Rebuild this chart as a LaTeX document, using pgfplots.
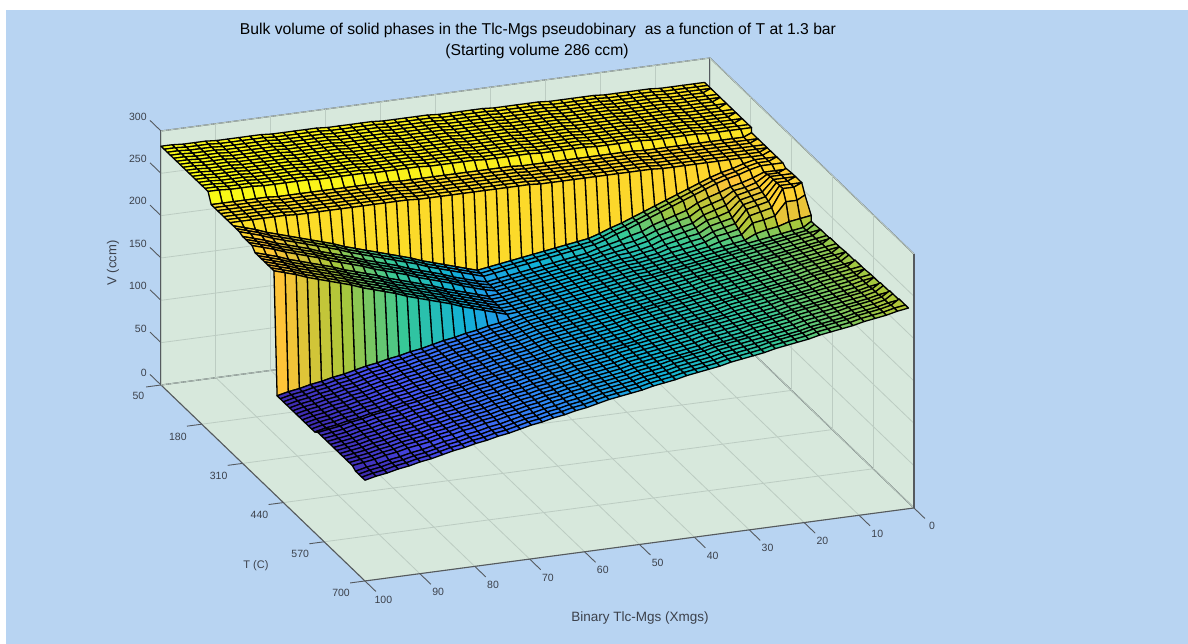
\documentclass[border=0pt]{standalone}
\usepackage{fontspec}
\setmainfont{Liberation Sans}
\usepackage{pgfplots}
\pgfplotsset{compat=1.18}
\definecolor{bgblue}{RGB}{184,212,242}
\definecolor{wall}{RGB}{215,232,220}
\definecolor{gridc}{RGB}{188,204,194}
\definecolor{axc}{RGB}{85,90,95}
\definecolor{txt}{RGB}{60,65,75}
\pgfplotsset{
  box3d/.style={
    x={(-5.49pt,-0.73pt)}, y={(0.3138pt,-0.3015pt)}, z={(0pt,0.8467pt)},
    xmin=0, xmax=100, ymin=50, ymax=700, zmin=0, zmax=300,
    at={(710pt,332pt)}, anchor=origin, clip=false,
  },
}
\begin{document}
\begin{tikzpicture}[x=1pt,y=1pt]
\path[use as bounding box] (0,0) rectangle (1188,644);
\fill[white] (0,0) rectangle (1188,644);
\fill[bgblue] (6,0) rectangle (1188,634);
% walls first, the real axis goes on top of them
\begin{axis}[box3d, hide axis]
\fill[wall] (axis cs:100,50,0) -- (axis cs:100,50,300) -- (axis cs:0,50,300) -- (axis cs:0,700,300) -- (axis cs:0,700,0) -- (axis cs:100,700,0) -- cycle;
\end{axis}
\begin{axis}[box3d,
  xtick={0,10,...,100}, ytick={50,180,310,440,570,700}, ztick={0,50,...,300},
  grid=major, major grid style={gridc, line width=0.8pt},
  axis line style={axc, line width=1.1pt},
  tick style={draw=none}, major tick length=15pt, tick align=outside,
  tick label style={font=\fontsize{10.5}{12}\selectfont, text=txt},
  xticklabel style={xshift=4pt},
  /pgf/number format/assume math mode=true,
  colormap={parula}{rgb=(.2422,.1504,.6603) rgb=(.2810,.3228,.9579) rgb=(.1786,.5289,.9682) rgb=(.0689,.6948,.8394) rgb=(.2161,.7843,.5923) rgb=(.6720,.7793,.2227) rgb=(.9970,.7659,.2199) rgb=(.9769,.9839,.0805)},
  point meta min=119, point meta max=282,
]
% V, one line per T (50 to 700 by 10), X from 1 to 100 along each line
\addplot3[surf, shader=flat corner, draw=black, line width=1.3pt, line join=round, z buffer=none,
  mesh/rows=66, mesh/cols=50, point meta=z]
table[row sep=\\, header=false, x expr={1+99/49*mod(\coordindex,50)}, y expr={50+10*floor(\coordindex/50)}, z index=0]{
272\\272\\272\\272\\272\\273\\273\\273\\273\\273\\274\\274\\274\\274\\274\\275\\275\\275\\275\\275\\276\\276\\276\\276\\276\\277\\277\\277\\277\\277\\278\\278\\278\\278\\278\\279\\279\\279\\279\\279\\280\\280\\280\\280\\280\\281\\281\\281\\282\\282\\
272\\272\\272\\272\\272\\273\\273\\273\\273\\273\\274\\274\\274\\274\\274\\275\\275\\275\\275\\275\\276\\276\\276\\276\\276\\277\\277\\277\\277\\277\\278\\278\\278\\278\\278\\279\\279\\279\\279\\279\\280\\280\\280\\280\\280\\281\\281\\281\\282\\282\\
272\\272\\272\\272\\272\\273\\273\\273\\273\\273\\274\\274\\274\\274\\274\\275\\275\\275\\275\\275\\276\\276\\276\\276\\276\\277\\277\\277\\277\\277\\278\\278\\278\\278\\278\\279\\279\\279\\279\\279\\280\\280\\280\\280\\280\\281\\281\\281\\282\\282\\
272\\272\\272\\272\\272\\273\\273\\273\\273\\273\\274\\274\\274\\274\\274\\275\\275\\275\\275\\275\\276\\276\\276\\276\\276\\277\\277\\277\\277\\277\\278\\278\\278\\278\\278\\279\\279\\279\\279\\279\\280\\280\\280\\280\\280\\281\\281\\281\\282\\282\\
272\\272\\272\\272\\272\\273\\273\\273\\273\\273\\274\\274\\274\\274\\274\\275\\275\\275\\275\\275\\276\\276\\276\\276\\276\\277\\277\\277\\277\\277\\278\\278\\278\\278\\278\\279\\279\\279\\279\\279\\280\\280\\280\\280\\280\\281\\281\\281\\282\\282\\
272\\272\\272\\272\\272\\273\\273\\273\\273\\273\\274\\274\\274\\274\\274\\275\\275\\275\\275\\275\\276\\276\\276\\276\\276\\277\\277\\277\\277\\277\\278\\278\\278\\278\\278\\279\\279\\279\\279\\279\\280\\280\\280\\280\\280\\281\\281\\281\\282\\282\\
272\\272\\272\\272\\272\\273\\273\\273\\273\\273\\274\\274\\274\\274\\274\\275\\275\\275\\275\\275\\276\\276\\276\\276\\276\\277\\277\\277\\277\\277\\278\\278\\278\\278\\278\\279\\279\\279\\279\\279\\280\\280\\280\\280\\280\\281\\281\\281\\282\\282\\
272\\272\\272\\272\\272\\273\\273\\273\\273\\273\\274\\274\\274\\274\\274\\275\\275\\275\\275\\275\\276\\276\\276\\276\\276\\277\\277\\277\\277\\277\\278\\278\\278\\278\\278\\279\\279\\279\\279\\279\\280\\280\\280\\280\\280\\281\\281\\281\\282\\282\\
272\\272\\272\\272\\272\\273\\273\\273\\273\\273\\274\\274\\274\\274\\274\\275\\275\\275\\275\\275\\276\\276\\276\\276\\276\\277\\277\\277\\277\\277\\278\\278\\278\\278\\278\\279\\279\\279\\279\\279\\280\\280\\280\\280\\280\\281\\281\\281\\282\\282\\
272\\272\\272\\272\\272\\273\\273\\273\\273\\273\\274\\274\\274\\274\\274\\275\\275\\275\\275\\275\\276\\276\\276\\276\\276\\277\\277\\277\\277\\277\\278\\278\\278\\278\\278\\279\\279\\279\\279\\279\\280\\280\\280\\280\\280\\281\\281\\281\\282\\282\\
272\\272\\272\\272\\272\\273\\273\\273\\273\\273\\274\\274\\274\\274\\274\\275\\275\\275\\275\\275\\276\\276\\276\\276\\276\\277\\277\\277\\277\\277\\278\\278\\278\\278\\278\\279\\279\\279\\279\\279\\280\\280\\280\\280\\280\\281\\281\\281\\282\\282\\
272\\272\\272\\272\\272\\273\\273\\273\\273\\273\\274\\274\\274\\274\\274\\275\\275\\275\\275\\275\\276\\276\\276\\276\\276\\277\\277\\277\\277\\277\\278\\278\\278\\278\\278\\279\\279\\279\\279\\279\\280\\280\\280\\280\\280\\281\\281\\281\\282\\282\\
272\\272\\272\\272\\272\\273\\273\\273\\273\\273\\274\\274\\274\\274\\274\\275\\275\\275\\275\\275\\276\\276\\276\\276\\276\\277\\277\\277\\277\\277\\278\\278\\278\\278\\278\\279\\279\\279\\279\\279\\280\\280\\280\\280\\280\\281\\281\\281\\282\\282\\
272\\272\\272\\272\\272\\273\\273\\273\\273\\273\\274\\274\\274\\274\\274\\275\\275\\275\\275\\275\\276\\276\\276\\276\\276\\277\\277\\277\\277\\277\\278\\278\\278\\278\\278\\279\\279\\279\\279\\279\\280\\280\\280\\280\\280\\281\\281\\281\\282\\282\\
272\\272\\272\\272\\272\\273\\273\\273\\273\\273\\274\\274\\274\\274\\274\\275\\275\\275\\275\\275\\276\\276\\276\\276\\276\\277\\277\\277\\277\\277\\278\\278\\278\\278\\278\\279\\279\\279\\279\\279\\280\\280\\280\\280\\280\\281\\281\\281\\282\\282\\
272\\272\\272\\272\\272\\273\\273\\273\\273\\273\\274\\274\\274\\274\\274\\275\\275\\275\\275\\275\\276\\276\\276\\276\\276\\277\\277\\277\\277\\277\\278\\278\\278\\278\\278\\279\\279\\279\\279\\279\\280\\280\\280\\280\\280\\281\\281\\281\\282\\282\\
266\\266\\266\\266\\266\\266\\266\\266\\266\\266\\266\\267\\267\\267\\267\\267\\267\\267\\267\\267\\267\\267\\268\\268\\268\\268\\268\\268\\268\\268\\268\\268\\268\\269\\269\\269\\269\\269\\269\\269\\269\\269\\269\\269\\270\\270\\270\\270\\270\\270\\
266\\266\\266\\266\\266\\266\\266\\266\\266\\266\\266\\267\\267\\267\\267\\267\\267\\267\\267\\267\\267\\267\\268\\268\\268\\268\\268\\268\\268\\268\\268\\268\\268\\269\\269\\269\\269\\269\\269\\269\\269\\269\\269\\269\\270\\270\\270\\270\\270\\270\\
266\\266\\266\\266\\266\\266\\266\\266\\266\\266\\266\\267\\267\\267\\267\\267\\267\\267\\267\\267\\267\\267\\268\\268\\268\\268\\268\\268\\268\\268\\268\\268\\268\\269\\269\\269\\269\\269\\269\\269\\269\\269\\269\\269\\270\\270\\270\\270\\270\\270\\
266\\266\\266\\266\\266\\266\\266\\266\\266\\266\\266\\267\\267\\267\\267\\267\\267\\267\\267\\267\\267\\267\\268\\268\\268\\268\\268\\268\\268\\268\\268\\268\\268\\269\\269\\269\\269\\269\\269\\269\\269\\269\\269\\269\\270\\270\\270\\270\\270\\270\\
266\\266\\266\\266\\266\\266\\266\\266\\266\\266\\266\\267\\267\\267\\267\\267\\267\\267\\267\\267\\267\\267\\268\\268\\268\\268\\268\\268\\268\\268\\268\\268\\268\\269\\269\\269\\269\\269\\269\\269\\269\\269\\269\\269\\270\\270\\270\\270\\270\\270\\
266\\266\\266\\266\\266\\266\\266\\266\\266\\266\\266\\267\\267\\267\\267\\267\\267\\267\\267\\267\\267\\267\\268\\268\\268\\268\\268\\268\\268\\268\\268\\268\\268\\269\\269\\269\\269\\269\\269\\269\\269\\269\\269\\269\\270\\270\\270\\270\\270\\270\\
266\\266\\266\\266\\266\\266\\266\\266\\266\\266\\266\\267\\267\\267\\267\\267\\267\\267\\267\\267\\267\\267\\268\\268\\268\\268\\268\\268\\268\\268\\268\\268\\268\\269\\269\\269\\269\\269\\269\\269\\269\\269\\269\\269\\270\\270\\270\\270\\270\\270\\
266\\266\\266\\263\\259\\256\\252\\247\\242\\237\\232\\227\\222\\217\\212\\208\\203\\199\\197\\195\\193\\191\\189\\187\\185\\183\\181\\179\\183\\187\\191\\195\\199\\204\\208\\212\\216\\220\\224\\228\\233\\237\\241\\245\\249\\253\\257\\262\\266\\270\\
266\\266\\266\\263\\259\\256\\252\\247\\242\\237\\232\\227\\222\\217\\212\\208\\203\\199\\197\\195\\193\\191\\189\\187\\185\\183\\181\\179\\183\\187\\191\\195\\199\\204\\208\\212\\216\\220\\224\\228\\233\\237\\241\\245\\249\\253\\257\\262\\266\\270\\
266\\266\\266\\263\\259\\256\\252\\247\\242\\237\\232\\227\\222\\217\\212\\208\\203\\199\\197\\195\\193\\191\\189\\187\\185\\183\\181\\179\\183\\187\\191\\195\\199\\204\\208\\212\\216\\220\\224\\228\\233\\237\\241\\245\\249\\253\\257\\262\\266\\270\\
262\\262\\262\\257\\253\\250\\245\\241\\236\\229\\225\\221\\217\\211\\208\\204\\201\\198\\194\\192\\190\\188\\186\\184\\182\\180\\178\\176\\179\\183\\187\\192\\196\\200\\204\\209\\213\\217\\221\\226\\230\\234\\238\\243\\247\\251\\255\\260\\264\\268\\
263\\263\\263\\255\\251\\249\\241\\237\\233\\225\\222\\218\\214\\209\\205\\203\\200\\197\\194\\192\\190\\188\\186\\184\\182\\180\\178\\176\\179\\183\\187\\192\\196\\200\\204\\209\\213\\217\\221\\226\\230\\234\\238\\243\\247\\251\\255\\260\\264\\268\\
264\\264\\264\\253\\250\\247\\237\\233\\229\\221\\218\\215\\212\\207\\204\\201\\199\\197\\194\\192\\190\\188\\186\\184\\182\\180\\178\\176\\179\\183\\187\\192\\196\\200\\204\\209\\213\\217\\221\\226\\230\\234\\238\\243\\247\\251\\255\\260\\264\\268\\
264\\264\\264\\251\\248\\245\\233\\229\\226\\219\\216\\213\\210\\205\\202\\200\\199\\196\\194\\192\\190\\188\\186\\184\\182\\180\\178\\176\\179\\183\\187\\192\\196\\200\\204\\209\\213\\217\\221\\226\\230\\234\\238\\243\\247\\251\\255\\260\\264\\268\\
264\\264\\264\\249\\246\\243\\229\\226\\223\\216\\214\\211\\208\\204\\202\\199\\198\\196\\194\\192\\190\\188\\186\\184\\182\\180\\178\\176\\175\\179\\183\\187\\191\\196\\200\\204\\208\\212\\217\\221\\225\\229\\234\\238\\242\\246\\250\\255\\259\\263\\
264\\264\\264\\247\\244\\241\\226\\223\\220\\214\\212\\209\\207\\203\\201\\199\\198\\196\\194\\192\\190\\188\\186\\184\\182\\180\\178\\176\\175\\179\\183\\187\\191\\196\\200\\204\\208\\212\\217\\221\\225\\229\\234\\238\\242\\246\\250\\255\\259\\263\\
264\\264\\264\\243\\240\\237\\223\\220\\218\\213\\210\\208\\206\\203\\201\\199\\198\\196\\194\\192\\190\\188\\186\\184\\182\\180\\178\\176\\175\\179\\183\\187\\191\\196\\200\\204\\208\\212\\217\\221\\225\\229\\234\\238\\242\\246\\250\\255\\259\\263\\
253\\252\\252\\237\\234\\232\\220\\218\\215\\211\\209\\207\\205\\203\\201\\199\\198\\196\\194\\192\\190\\188\\186\\184\\182\\180\\178\\176\\175\\179\\183\\187\\191\\196\\200\\204\\208\\212\\217\\221\\225\\229\\234\\238\\242\\246\\250\\255\\259\\263\\
236\\234\\232\\228\\226\\223\\217\\215\\213\\211\\209\\207\\205\\203\\201\\199\\198\\196\\194\\192\\190\\188\\186\\184\\182\\180\\178\\176\\175\\179\\183\\187\\191\\196\\200\\204\\208\\212\\217\\221\\225\\229\\234\\238\\242\\246\\250\\255\\259\\263\\
229\\227\\225\\223\\221\\219\\217\\215\\213\\211\\209\\207\\205\\203\\201\\199\\198\\196\\194\\192\\190\\188\\186\\184\\182\\180\\178\\176\\175\\179\\183\\187\\191\\196\\200\\204\\208\\212\\217\\221\\225\\229\\234\\238\\242\\246\\250\\255\\259\\263\\
229\\227\\225\\223\\221\\219\\217\\215\\213\\211\\209\\207\\205\\203\\201\\199\\198\\196\\194\\192\\190\\188\\186\\184\\182\\180\\178\\176\\175\\179\\183\\187\\191\\196\\200\\204\\208\\212\\217\\221\\225\\229\\234\\238\\242\\246\\250\\255\\259\\263\\
230\\228\\226\\224\\222\\220\\218\\216\\214\\212\\210\\208\\206\\204\\202\\200\\198\\196\\194\\192\\190\\188\\186\\184\\182\\180\\178\\176\\173\\170\\168\\165\\163\\160\\158\\155\\152\\150\\147\\145\\142\\140\\137\\134\\132\\129\\127\\124\\122\\119\\
230\\228\\226\\224\\222\\220\\218\\216\\214\\212\\210\\208\\206\\204\\202\\200\\198\\196\\194\\192\\190\\188\\186\\184\\182\\180\\178\\176\\173\\170\\168\\165\\163\\160\\158\\155\\152\\150\\147\\145\\142\\140\\137\\134\\132\\129\\127\\124\\122\\119\\
230\\228\\226\\224\\222\\220\\218\\216\\214\\212\\210\\208\\206\\204\\202\\200\\198\\196\\194\\192\\190\\188\\186\\184\\182\\180\\178\\176\\173\\170\\168\\165\\163\\160\\158\\155\\152\\150\\147\\145\\142\\140\\137\\134\\132\\129\\127\\124\\122\\119\\
230\\228\\226\\224\\222\\220\\218\\216\\214\\212\\210\\208\\206\\204\\202\\200\\198\\196\\194\\192\\190\\188\\186\\184\\182\\180\\178\\176\\173\\170\\168\\165\\163\\160\\158\\155\\152\\150\\147\\145\\142\\140\\137\\134\\132\\129\\127\\124\\122\\119\\
231\\229\\227\\225\\223\\221\\219\\217\\215\\213\\211\\209\\207\\204\\202\\200\\198\\196\\194\\192\\190\\188\\186\\184\\182\\180\\178\\176\\173\\170\\168\\165\\163\\160\\158\\155\\152\\150\\147\\145\\142\\140\\137\\134\\132\\129\\127\\124\\122\\119\\
231\\229\\227\\225\\223\\221\\219\\217\\215\\213\\211\\209\\207\\204\\202\\200\\198\\196\\194\\192\\190\\188\\186\\184\\182\\180\\178\\176\\173\\170\\168\\165\\163\\160\\158\\155\\152\\150\\147\\145\\142\\140\\137\\134\\132\\129\\127\\124\\122\\119\\
231\\229\\227\\225\\223\\221\\219\\217\\215\\213\\211\\209\\207\\204\\202\\200\\198\\196\\194\\192\\190\\188\\186\\184\\182\\180\\178\\176\\173\\170\\168\\165\\163\\160\\158\\155\\152\\150\\147\\145\\142\\140\\137\\134\\132\\129\\127\\124\\122\\119\\
231\\229\\227\\225\\223\\221\\219\\217\\215\\213\\211\\209\\207\\204\\202\\200\\198\\196\\194\\192\\190\\188\\186\\184\\182\\180\\178\\176\\173\\170\\168\\165\\163\\160\\158\\155\\152\\150\\147\\145\\142\\140\\137\\134\\132\\129\\127\\124\\122\\119\\
232\\230\\228\\226\\224\\221\\219\\217\\215\\213\\211\\209\\207\\205\\203\\201\\199\\197\\195\\193\\191\\188\\186\\184\\182\\180\\178\\176\\173\\170\\168\\165\\163\\160\\158\\155\\152\\150\\147\\145\\142\\140\\137\\134\\132\\129\\127\\124\\122\\119\\
232\\230\\228\\226\\224\\221\\219\\217\\215\\213\\211\\209\\207\\205\\203\\201\\199\\197\\195\\193\\191\\188\\186\\184\\182\\180\\178\\176\\173\\170\\168\\165\\163\\160\\158\\155\\152\\150\\147\\145\\142\\140\\137\\134\\132\\129\\127\\124\\122\\119\\
232\\230\\228\\226\\224\\221\\219\\217\\215\\213\\211\\209\\207\\205\\203\\201\\199\\197\\195\\193\\191\\188\\186\\184\\182\\180\\178\\176\\173\\170\\168\\165\\163\\160\\158\\155\\152\\150\\147\\145\\142\\140\\137\\134\\132\\129\\127\\124\\122\\119\\
232\\230\\228\\226\\224\\221\\219\\217\\215\\213\\211\\209\\207\\205\\203\\201\\199\\197\\195\\193\\191\\188\\186\\184\\182\\180\\178\\176\\173\\170\\168\\165\\163\\160\\158\\155\\152\\150\\147\\145\\142\\140\\137\\134\\132\\129\\127\\124\\122\\119\\
233\\231\\229\\227\\225\\222\\220\\218\\216\\214\\212\\210\\208\\205\\203\\201\\199\\197\\195\\193\\191\\188\\186\\184\\182\\180\\178\\176\\173\\170\\168\\165\\163\\160\\158\\155\\152\\150\\147\\145\\142\\140\\137\\134\\132\\129\\127\\124\\122\\119\\
233\\231\\229\\227\\225\\222\\220\\218\\216\\214\\212\\210\\208\\205\\203\\201\\199\\197\\195\\193\\191\\188\\186\\184\\182\\180\\178\\176\\173\\171\\168\\166\\163\\161\\158\\156\\153\\151\\148\\146\\143\\141\\138\\136\\134\\131\\129\\126\\124\\122\\
233\\231\\229\\227\\225\\222\\220\\218\\216\\214\\212\\210\\208\\205\\203\\201\\199\\197\\195\\193\\191\\188\\186\\184\\182\\180\\178\\176\\173\\171\\168\\166\\163\\161\\158\\156\\153\\151\\148\\146\\143\\141\\138\\136\\134\\131\\129\\126\\124\\122\\
233\\231\\229\\227\\225\\222\\220\\218\\216\\214\\212\\210\\208\\205\\203\\201\\199\\197\\195\\193\\191\\188\\186\\184\\182\\180\\178\\176\\173\\171\\168\\166\\163\\161\\158\\156\\153\\151\\148\\146\\143\\141\\138\\136\\134\\131\\129\\126\\124\\122\\
234\\232\\229\\227\\225\\223\\221\\219\\217\\214\\212\\210\\208\\206\\204\\202\\200\\197\\195\\193\\191\\189\\187\\185\\182\\180\\178\\176\\173\\171\\168\\166\\163\\161\\158\\156\\153\\151\\148\\146\\143\\141\\138\\136\\134\\131\\129\\126\\124\\122\\
234\\232\\229\\227\\225\\223\\221\\219\\217\\214\\212\\210\\208\\206\\204\\202\\200\\197\\195\\193\\191\\189\\187\\185\\182\\180\\178\\176\\173\\171\\168\\166\\163\\161\\158\\156\\153\\151\\148\\146\\143\\141\\138\\136\\134\\131\\129\\126\\124\\122\\
234\\232\\229\\227\\225\\223\\221\\219\\217\\214\\212\\210\\208\\206\\204\\202\\200\\197\\195\\193\\191\\189\\187\\185\\182\\180\\178\\176\\173\\171\\168\\166\\163\\161\\158\\156\\153\\151\\148\\146\\143\\141\\138\\136\\134\\131\\129\\126\\124\\122\\
234\\232\\229\\227\\225\\223\\221\\219\\217\\214\\212\\210\\208\\206\\204\\202\\200\\197\\195\\193\\191\\189\\187\\185\\182\\180\\178\\176\\173\\171\\168\\166\\163\\161\\158\\156\\153\\151\\148\\146\\143\\141\\138\\136\\134\\131\\129\\126\\124\\122\\
235\\233\\230\\228\\226\\224\\222\\220\\218\\215\\213\\211\\209\\206\\204\\202\\200\\197\\195\\193\\191\\189\\187\\185\\182\\180\\178\\176\\173\\171\\168\\166\\163\\161\\158\\156\\153\\151\\148\\146\\143\\141\\138\\136\\134\\131\\129\\126\\124\\122\\
235\\233\\230\\228\\226\\224\\222\\220\\218\\215\\213\\211\\209\\206\\204\\202\\200\\197\\195\\193\\191\\189\\187\\185\\182\\180\\178\\176\\173\\171\\168\\166\\163\\161\\158\\156\\153\\151\\148\\146\\143\\141\\138\\136\\134\\131\\129\\126\\124\\122\\
235\\233\\230\\228\\226\\224\\222\\220\\218\\215\\213\\211\\209\\206\\204\\202\\200\\197\\195\\193\\191\\189\\187\\185\\182\\180\\178\\176\\173\\171\\168\\166\\163\\161\\158\\156\\153\\151\\148\\146\\143\\141\\138\\136\\134\\131\\129\\126\\124\\122\\
236\\234\\231\\229\\227\\224\\222\\220\\218\\215\\213\\211\\209\\207\\205\\203\\201\\198\\196\\194\\192\\189\\187\\185\\182\\180\\178\\176\\173\\171\\168\\166\\163\\161\\158\\156\\153\\151\\148\\146\\143\\141\\138\\136\\134\\131\\129\\126\\124\\122\\
236\\234\\231\\229\\227\\224\\222\\220\\218\\215\\213\\211\\209\\207\\205\\203\\201\\198\\196\\194\\192\\189\\187\\185\\182\\180\\178\\176\\173\\171\\168\\166\\163\\161\\158\\156\\153\\151\\148\\146\\143\\141\\138\\136\\134\\131\\129\\126\\124\\122\\
236\\234\\231\\229\\227\\224\\222\\220\\218\\215\\213\\211\\209\\207\\205\\203\\201\\198\\196\\194\\192\\189\\187\\185\\182\\180\\178\\176\\173\\170\\168\\165\\163\\160\\158\\155\\152\\150\\147\\145\\142\\140\\137\\134\\132\\129\\127\\124\\122\\119\\
237\\235\\232\\230\\228\\225\\223\\221\\219\\216\\214\\212\\210\\207\\205\\203\\201\\198\\196\\194\\192\\189\\187\\185\\182\\180\\178\\176\\173\\170\\168\\165\\163\\160\\158\\155\\152\\150\\147\\145\\142\\140\\137\\134\\132\\129\\127\\124\\122\\119\\
237\\235\\232\\230\\228\\225\\223\\221\\219\\216\\214\\212\\210\\207\\205\\203\\201\\198\\196\\194\\192\\189\\187\\185\\182\\180\\178\\176\\173\\170\\168\\165\\163\\160\\158\\155\\152\\150\\147\\145\\142\\140\\137\\134\\132\\129\\127\\124\\122\\119\\
237\\235\\232\\230\\228\\225\\223\\221\\219\\216\\214\\212\\210\\207\\205\\203\\201\\198\\196\\194\\192\\189\\187\\185\\182\\180\\178\\176\\173\\170\\168\\165\\163\\160\\158\\155\\152\\150\\147\\145\\142\\140\\137\\134\\132\\129\\127\\124\\122\\119\\
};
% MATLAB style ticks, laid along the neighbouring axis
\pgfplotsinvokeforeach{0,10,...,100}{\draw[axc, line width=0.9pt] (axis cs:#1,700,0) -- (axis cs:#1,735,0);}
\pgfplotsinvokeforeach{50,180,310,440,570,700}{\draw[axc, line width=0.9pt] (axis cs:100,#1,0) -- (axis cs:102.7,#1,0);}
\pgfplotsinvokeforeach{0,50,...,300}{\draw[axc, line width=0.9pt] (axis cs:100,50,#1) -- (axis cs:100,15,#1);}
\end{axis}
\node[font=\fontsize{15.7}{18}\selectfont, text=black] at (538,614) {Bulk volume of solid phases in the Tlc-Mgs pseudobinary\ \ as a function of T at 1.3 bar};
\node[font=\fontsize{15.7}{18}\selectfont, text=black] at (537,592.5) {(Starting volume 286 ccm)};
\node[font=\fontsize{13}{15}\selectfont, text=txt, rotate=90] at (113,381) {V (ccm)};
\node[font=\fontsize{11}{14}\selectfont, text=txt] at (256,78) {T (C)};
\node[font=\fontsize{13.5}{16}\selectfont, text=txt] at (640,26) {Binary Tlc-Mgs (Xmgs)};
\end{tikzpicture}
\end{document}
